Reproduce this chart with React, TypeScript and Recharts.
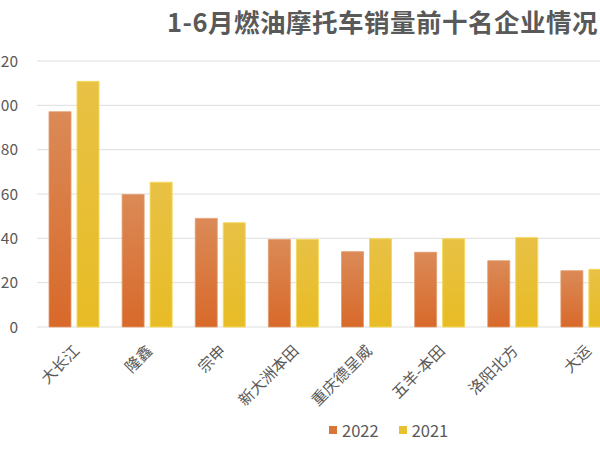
import { Bar, BarChart, CartesianGrid, XAxis, YAxis } from "recharts";

const companies = ["大长江", "隆鑫", "宗申", "新大洲本田", "重庆德呈威", "五羊-本田", "洛阳北方", "大运"];
const sales2022 = [97.1, 59.8, 49.0, 39.5, 34.0, 33.7, 29.9, 25.4];
const sales2021 = [110.8, 65.3, 47.0, 39.5, 39.8, 39.8, 40.3, 26.0];
const yTicks = [0, 20, 40, 60, 80, 100, 120];
const seriesNames = ["2022", "2021"];

const title = "1-6月燃油摩托车销量前十名企业情况";
const FONT = '"Noto Sans CJK SC", "Noto Sans", sans-serif';
const TEXT = "#595959";
const COLORS = ["#d9753a", "#e9c030"];

const data = companies.map((name, i) => ({
  name,
  y2022: sales2022[i],
  y2021: sales2021[i],
}));

function CategoryTick({ x, y, payload }: any) {
  return (
    <g transform={`translate(${x + 3},${y + 13})`}>
      <text
        transform="rotate(-45)"
        textAnchor="end"
        dy="0.35em"
        fill={TEXT}
        fontSize={15.5}
        fontFamily={FONT}
      >
        {payload.value}
      </text>
    </g>
  );
}

export default function App() {
  return (
    <div
      style={{
        position: "absolute",
        top: 0,
        left: 0,
        width: 600,
        height: 450,
        overflow: "hidden",
        background: "#fff",
      }}
    >
      <div
        style={{
          position: "absolute",
          left: 167,
          top: 3,
          lineHeight: "36px",
          fontSize: 25.5,
          letterSpacing: 0.5,
          fontWeight: 700,
          color: TEXT,
          fontFamily: FONT,
          whiteSpace: "nowrap",
        }}
      >
        {title}
      </div>
      <BarChart
        width={640}
        height={450}
        data={data}
        margin={{ top: 61, right: 18, bottom: 0, left: 0 }}
        barGap={6}
        barSize={22}
      >
        <defs>
          <linearGradient id="fill2022" x1="0" y1="0" x2="0" y2="1">
            <stop offset="0%" stopColor="#db8a57" />
            <stop offset="100%" stopColor="#d8692a" />
          </linearGradient>
          <linearGradient id="fill2021" x1="0" y1="0" x2="0" y2="1">
            <stop offset="0%" stopColor="#e8c145" />
            <stop offset="100%" stopColor="#e8bc25" />
          </linearGradient>
        </defs>
        <CartesianGrid vertical={false} stroke="#dedede" />
        <XAxis
          dataKey="name"
          axisLine={false}
          tickLine={false}
          interval={0}
          height={123}
          tick={<CategoryTick />}
        />
        <YAxis
          width={37}
          domain={[0, 120]}
          ticks={yTicks}
          axisLine={false}
          tickLine={false}
          tickSize={0}
          tickMargin={19}
          tick={{ fontSize: 15.5, fill: TEXT, fontFamily: FONT }}
        />
        <Bar dataKey="y2022" fill="url(#fill2022)" stroke="#e39a6a" strokeWidth={0.8} isAnimationActive={false} />
        <Bar dataKey="y2021" fill="url(#fill2021)" stroke="#f3d85a" strokeWidth={1} isAnimationActive={false} />
      </BarChart>
      <div
        style={{
          position: "absolute",
          left: 329,
          top: 418,
          display: "flex",
          alignItems: "center",
          fontFamily: FONT,
          lineHeight: "24px",
        }}
      >
        {seriesNames.map((label, i) => (
          <div key={label} style={{ display: "flex", alignItems: "center", marginRight: 20 }}>
            <span style={{ width: 8, height: 8, background: COLORS[i], marginRight: 5 }} />
            <span style={{ fontSize: 16.5, color: TEXT }}>{label}</span>
          </div>
        ))}
      </div>
    </div>
  );
}
